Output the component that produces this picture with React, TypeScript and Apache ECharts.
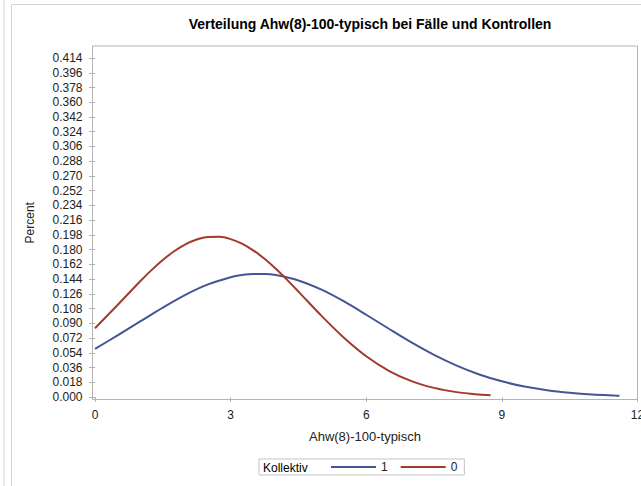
import React, { useEffect, useRef } from "react";
import * as echarts from "echarts";

const titleText = "Verteilung Ahw(8)-100-typisch bei Fälle und Kontrollen";
const xAxisName = "Ahw(8)-100-typisch";
const yAxisName = "Percent";
const legendTitle = "Kollektiv";
const seriesNames = ["1", "0"];

const xTicks = [0, 3, 6, 9, 12];
const yTicks = [
  0, 0.018, 0.036, 0.054, 0.072, 0.09, 0.108, 0.126, 0.144, 0.162, 0.18, 0.198,
  0.216, 0.234, 0.252, 0.27, 0.288, 0.306, 0.324, 0.342, 0.36, 0.378, 0.396, 0.414,
];

// Kollektiv = 1 (blue)
const blueX = [0, 0.5, 1, 1.5, 2, 2.5, 3, 3.25, 3.5, 3.75, 4, 4.5, 5, 5.5, 6, 6.5, 7, 7.5, 8, 8.5, 9, 9.5, 10, 10.5, 11, 11.5, 11.6];
const blueY = [
  0.0588, 0.0753, 0.0923, 0.1093, 0.1249, 0.1376, 0.1464, 0.149, 0.1503, 0.1503, 0.149, 0.1424, 0.1314, 0.117,
  0.1005, 0.0834, 0.0667, 0.0515, 0.0384, 0.0276, 0.0192, 0.0128, 0.0083, 0.0052, 0.0031, 0.0018, 0.0016,
];

// Kollektiv = 0 (red)
const redX = [0, 0.5, 1, 1.25, 1.5, 1.75, 2, 2.25, 2.5, 2.75, 3, 3.25, 3.5, 3.75, 4, 4.25, 4.5, 5, 5.5, 6, 6.5, 7, 7.5, 8, 8.5, 8.75];
const redY = [
  0.0841, 0.1124, 0.1414, 0.155, 0.1674, 0.178, 0.1865, 0.1924, 0.1955, 0.1957, 0.1929, 0.1874, 0.1792, 0.1688,
  0.1566, 0.1431, 0.1288, 0.0997, 0.0727, 0.0498, 0.0321, 0.0195, 0.0112, 0.006, 0.003, 0.0021,
];

const BLUE = "#445694";
const RED = "#A23A2E";
const FONT = "Liberation Sans, Arial, sans-serif";

export default function App() {
  const ref = useRef<HTMLDivElement>(null);

  useEffect(() => {
    if (!ref.current) return;
    const chart = echarts.init(ref.current, null, { renderer: "svg" });
    const pairs = (xs: number[], ys: number[]) => xs.map((x, i) => [x, ys[i]]);

    chart.setOption({
      animation: false,
      backgroundColor: "#ffffff",
      textStyle: { fontFamily: FONT },
      title: {
        text: titleText,
        left: 365,
        top: 12,
        textAlign: "center",
        textStyle: { fontFamily: FONT, fontSize: 14, fontWeight: "bold", color: "#000" },
      },
      grid: {
        left: 92.5,
        right: 3.5,
        top: 46,
        bottom: 86.5,
        show: true,
        borderColor: "#b4b4b4",
        borderWidth: 1,
        backgroundColor: "transparent",
        containLabel: false,
        outerBoundsMode: "none",
      },
      xAxis: {
        type: "value",
        min: -0.055,
        max: 12,
        name: xAxisName,
        nameLocation: "middle",
        nameGap: 30,
        nameTextStyle: { fontFamily: FONT, fontSize: 13, color: "#222" },
        axisLine: { show: false },
        splitLine: { show: false },
        axisTick: { show: true, length: 5, customValues: xTicks, lineStyle: { color: "#b4b4b4" } },
        axisLabel: {
          customValues: xTicks,
          margin: 9,
          fontFamily: FONT,
          fontSize: 12,
          color: "#222",
          showMinLabel: true,
          showMaxLabel: true,
        },
      },
      yAxis: {
        type: "value",
        min: -0.003,
        max: 0.4287,
        name: yAxisName,
        nameLocation: "middle",
        nameGap: 57,
        nameTextStyle: { fontFamily: FONT, fontSize: 12, color: "#222" },
        axisLine: { show: false },
        splitLine: { show: false },
        axisTick: { show: true, length: 6, customValues: yTicks, lineStyle: { color: "#b4b4b4" } },
        axisLabel: {
          customValues: yTicks,
          margin: 10,
          fontFamily: FONT,
          fontSize: 12,
          color: "#222",
          formatter: (v: number) => v.toFixed(3),
        },
      },
      legend: {
        left: 259,
        top: 459,
        orient: "horizontal",
        data: seriesNames,
        icon: "rect",
        itemWidth: 45,
        itemHeight: 2,
        itemGap: 13,
        padding: [2, 7, 2, 72],
        borderColor: "#c4c4c4",
        borderWidth: 1,
        textStyle: { fontFamily: FONT, fontSize: 12, color: "#222" },
      },
      graphic: [
        { type: "line", silent: true, shape: { x1: 4, y1: 0, x2: 4, y2: 486 }, style: { stroke: "#d4d4d4", lineWidth: 1 } },
        { type: "line", silent: true, shape: { x1: 11.5, y1: 4.5, x2: 11.5, y2: 486 }, style: { stroke: "#d4d4d4", lineWidth: 1 } },
        { type: "line", silent: true, shape: { x1: 11.5, y1: 4.5, x2: 641, y2: 4.5 }, style: { stroke: "#d4d4d4", lineWidth: 1 } },
        {
          type: "text",
          x: 263,
          y: 468,
          style: {
            text: legendTitle,
            fontFamily: FONT,
            fontSize: 12,
            fill: "#000",
            textVerticalAlign: "middle",
          },
        },
      ],
      series: [
        {
          name: seriesNames[0],
          type: "line",
          data: pairs(blueX, blueY),
          smooth: 0.3,
          symbol: "none",
          lineStyle: { color: BLUE, width: 2 },
          itemStyle: { color: BLUE },
        },
        {
          name: seriesNames[1],
          type: "line",
          data: pairs(redX, redY),
          smooth: 0.3,
          symbol: "none",
          lineStyle: { color: RED, width: 2 },
          itemStyle: { color: RED },
        },
      ],
    });
    return () => chart.dispose();
  }, []);

  return (
    <div
      ref={ref}
      style={{ position: "fixed", left: 0, top: 0, width: 641, height: 486 }}
    />
  );
}
